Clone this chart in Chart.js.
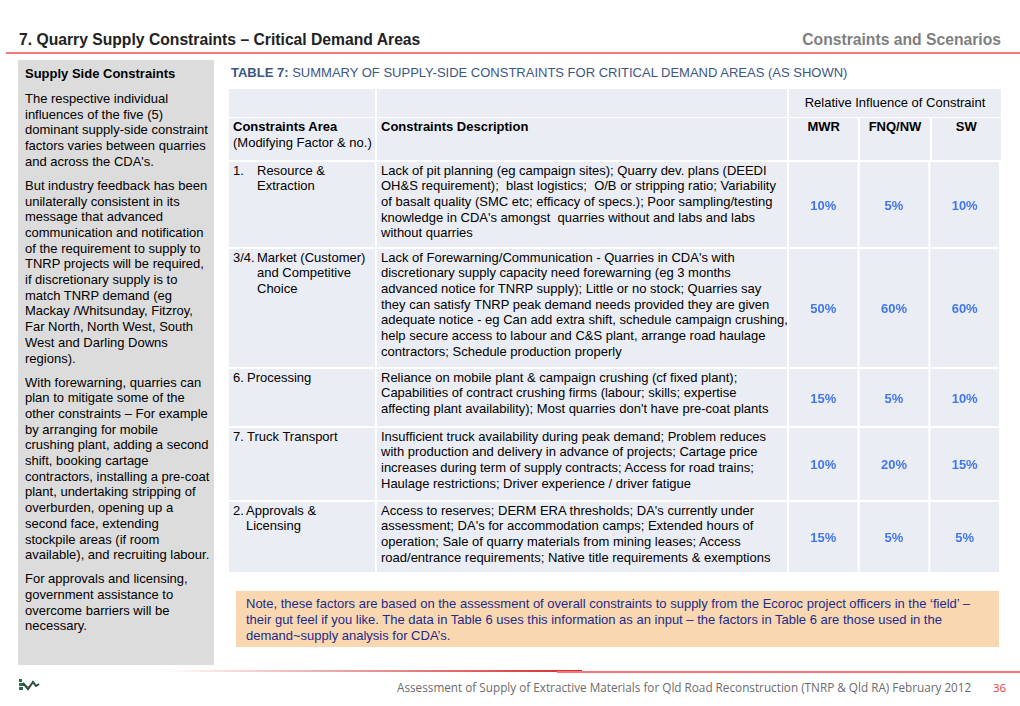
<!DOCTYPE html>
<html>
<head>
<meta charset="utf-8">
<script src="https://cdn.jsdelivr.net/npm/chart.js@4.4.1/dist/chart.umd.min.js"></script>
<style>
  body { margin: 0; width: 1020px; height: 706px; background: #fff; position: relative; overflow: hidden;
         font-family: "Liberation Sans", Arial, sans-serif; font-size: 13px; color: #000; }
  .abs { position: absolute; }
  .cell { position: absolute; background: #ebedf5; box-sizing: border-box; padding: 0.5px 4px 0 4px;
          line-height: 15.7px; white-space: pre; }
  .side p { margin: 0 0 8.3px 0; line-height: 15.7px; white-space: nowrap; }
  .b { font-weight: bold; }
</style>
</head>
<body>
<div class="abs b" style="left:19px;top:31px;font-size:15.7px;line-height:18px;color:#222">7. Quarry Supply Constraints – Critical Demand Areas</div>
<div class="abs b" style="right:19px;top:31px;font-size:15.7px;line-height:18px;color:#7f7f7f">Constraints and Scenarios</div>
<div class="abs" style="left:6px;top:52px;width:1014px;height:2px;background:#f47a7a"></div>

<div class="abs" style="left:18px;top:60px;width:196px;height:605px;background:#dcdcdc"></div>
<div class="abs side" id="side" style="left:25px;top:66px"></div>

<div class="abs" style="left:231px;top:65px;line-height:16px;color:#3c5686"><span class="b">TABLE 7:</span> SUMMARY OF SUPPLY-SIDE CONSTRAINTS FOR CRITICAL DEMAND AREAS (AS SHOWN)</div>

<div id="table"></div>

<div class="abs" style="left:236px;top:591px;width:763px;height:56px;background:#f9d7b0"></div>
<div class="abs" id="note" style="left:246px;top:596px;line-height:16px;color:#1c2b8c;white-space:pre"></div>

<div class="abs" style="left:160px;top:670px;width:422px;height:1.5px;background:linear-gradient(to right, rgba(232,90,90,0), #d42a2a)"></div>
<div class="abs" style="left:557px;top:671px;width:463px;height:2px;background:#f47878"></div>
<svg class="abs" style="left:19px;top:678px" width="22" height="14" viewBox="0 0 22 14">
  <rect x="0" y="1" width="3" height="3" fill="#2e6b4a"/>
  <rect x="0" y="5" width="5" height="3" fill="#2e6b4a"/>
  <rect x="0" y="9" width="4" height="3" fill="#2e6b4a"/>
  <polyline points="4,5 9,11 14,4 17,8 20,6" fill="none" stroke="#1f4d3a" stroke-width="2"/>
  <circle cx="9" cy="9" r="1" fill="#d43a3a"/>
</svg>
<div class="abs" id="foot" style="right:49px;top:680px;font-family:'Open Sans',sans-serif;font-size:12px;line-height:16px;color:#6b6b6b;white-space:nowrap;transform-origin:right center">Assessment of Supply of Extractive Materials for Qld Road Reconstruction (TNRP &amp; Qld RA) February 2012</div>
<div class="abs" style="left:993px;top:680px;font-family:'Open Sans',sans-serif;font-size:11.5px;line-height:16px;color:#e0403a">36</div>

<script>
// data
const regions = ['MWR', 'FNQ/NW', 'SW'];
const areaNums = ['1.', '3/4.', '6.', '7.', '2.'];
const areaNames = [
  ['Resource &', 'Extraction'],
  ['Market (Customer)', 'and Competitive', 'Choice'],
  ['Processing'],
  ['Truck Transport'],
  ['Approvals &', 'Licensing']
];
const descriptions = [
  ["Lack of pit planning (eg campaign sites); Quarry dev. plans (DEEDI",
   "OH&S requirement);  blast logistics;  O/B or stripping ratio; Variability",
   "of basalt quality (SMC etc; efficacy of specs.); Poor sampling/testing",
   "knowledge in CDA's amongst  quarries without and labs and labs",
   "without quarries"],
  ["Lack of Forewarning/Communication - Quarries in CDA's with",
   "discretionary supply capacity need forewarning (eg 3 months",
   "advanced notice for TNRP supply); Little or no stock; Quarries say",
   "they can satisfy TNRP peak demand needs provided they are given",
   "adequate notice - eg Can add extra shift, schedule campaign crushing,",
   "help secure access to labour and C&S plant, arrange road haulage",
   "contractors; Schedule production properly"],
  ["Reliance on mobile plant & campaign crushing (cf fixed plant);",
   "Capabilities of contract crushing firms (labour; skills; expertise",
   "affecting plant availability); Most quarries don't have pre-coat plants"],
  ["Insufficient truck availability during peak demand; Problem reduces",
   "with production and delivery in advance of projects; Cartage price",
   "increases during term of supply contracts; Access for road trains;",
   "Haulage restrictions; Driver experience / driver fatigue"],
  ["Access to reserves; DERM ERA thresholds; DA's currently under",
   "assessment; DA's for accommodation camps; Extended hours of",
   "operation; Sale of quarry materials from mining leases; Access",
   "road/entrance requirements; Native title requirements & exemptions"]
];
const mwr = [10, 50, 15, 10, 15];
const fnqnw = [5, 60, 5, 20, 5];
const sw = [10, 60, 10, 15, 5];

const sideParas = [
  ["The respective individual", "influences of the five (5)", "dominant supply-side constraint",
   "factors varies between quarries", "and across the CDA's."],
  ["But industry feedback has been", "unilaterally consistent in its", "message that advanced",
   "communication and notification", "of the requirement to supply to", "TNRP projects will be required,",
   "if discretionary supply is to", "match TNRP demand (eg", "Mackay /Whitsunday, Fitzroy,",
   "Far North, North West, South", "West and Darling Downs", "regions)."],
  ["With forewarning, quarries can", "plan to mitigate some of the", "other constraints – For example",
   "by arranging for mobile", "crushing plant, adding a second", "shift, booking cartage",
   "contractors, installing a pre-coat", "plant, undertaking stripping of", "overburden, opening up a",
   "second face, extending", "stockpile areas (if room", "available), and recruiting labour."],
  ["For approvals and licensing,", "government assistance to", "overcome barriers will be", "necessary."]
];
const noteLines = [
  "Note, these factors are based on the assessment of overall constraints to supply from the Ecoroc project officers in the ‘field’ –",
  "their gut feel if you like. The data in Table 6 uses this information as an input – the factors in Table 6 are those used in the",
  "demand~supply analysis for CDA’s."
];

// layout
const rowEdges = [162, 249, 369, 428, 502, 574];
const areaIndent = [24, 24, 14, 14, 13];
const colA = [229, 146], colD = [377, 410], valX = 789, valW = 212;

const esc = s => s.replace(/&/g, '&amp;').replace(/</g, '&lt;');

document.getElementById('side').innerHTML =
  '<p class="b" style="margin-bottom:9.3px">Supply Side Constraints</p>' +
  sideParas.map(p => '<p>' + p.map(esc).join('<br>') + '</p>').join('');
document.getElementById('note').innerHTML = noteLines.map(esc).join('\n');

function cell(x, y, w, h, html, extra) {
  return `<div class="cell" style="left:${x}px;top:${y}px;width:${w}px;height:${h}px;${extra || ''}">${html}</div>`;
}
const cw = (valW - 4) / 3;
let html = '';
html += cell(colA[0], 89, colA[1], 28, '');
html += cell(colD[0], 89, colD[1], 28, '');
html += cell(valX, 89, valW, 28, 'Relative Influence of Constraint', 'text-align:center;line-height:28px;padding:0');
html += cell(colA[0], 118, colA[1], 42, '<span class="b">Constraints Area</span>\n(Modifying Factor &amp; no.)', 'padding-top:1px');
html += cell(colD[0], 118, colD[1], 42, '<span class="b">Constraints Description</span>', 'padding-top:1px');
regions.forEach((r, j) => {
  html += cell(valX + j * (cw + 2), 118, cw, 42, '<span class="b">' + r + '</span>', 'text-align:center;padding:1px 0 0 0');
});
areaNums.forEach((n, i) => {
  const top = rowEdges[i], h = rowEdges[i + 1] - rowEdges[i] - 2;
  const area = `<div style="position:relative;padding-left:${areaIndent[i]}px"><span style="position:absolute;left:0">${n}</span>` +
    areaNames[i].map(esc).join('\n') + '</div>';
  html += cell(colA[0], top, colA[1], h, area);
  html += cell(colD[0], top, colD[1], h, descriptions[i].map(esc).join('\n'));
  html += `<canvas id="row${i}" class="abs" style="left:${valX}px;top:${top}px" width="${valW}" height="${h}"></canvas>`;
});
document.getElementById('table').innerHTML = html;

// cell backgrounds and value labels drawn on each bar position
const cellPlugin = {
  id: 'cells',
  beforeDatasetsDraw(chart) {
    const { ctx, chartArea } = chart;
    const meta = chart.getDatasetMeta(0);
    ctx.save();
    ctx.fillStyle = '#ebedf5';
    meta.data.forEach(el => {
      ctx.fillRect(el.x - el.width / 2, chartArea.top, el.width - 2, chartArea.bottom - chartArea.top);
    });
    ctx.restore();
  },
  afterDatasetsDraw(chart) {
    const { ctx, chartArea } = chart;
    const meta = chart.getDatasetMeta(0);
    const vals = chart.data.datasets[0].data;
    ctx.save();
    ctx.fillStyle = '#4277ea';
    ctx.font = 'bold 13px "Liberation Sans", Arial, sans-serif';
    ctx.textAlign = 'center';
    ctx.textBaseline = 'middle';
    const cy = (chartArea.top + chartArea.bottom) / 2 + 1.5;
    meta.data.forEach((el, j) => {
      ctx.fillText(vals[j] + '%', el.x - 1, cy);
    });
    ctx.restore();
  }
};

areaNums.forEach((n, i) => {
  new Chart(document.getElementById('row' + i), {
    type: 'bar',
    data: {
      labels: regions,
      datasets: [{
        data: [mwr[i], fnqnw[i], sw[i]],
        backgroundColor: 'rgba(0,0,0,0)',
        barPercentage: 1,
        categoryPercentage: 1
      }]
    },
    options: {
      responsive: false,
      animation: false,
      events: [],
      layout: { padding: 0 },
      scales: {
        x: { display: false },
        y: { display: false, min: 0, max: 100 }
      },
      plugins: { legend: { display: false }, tooltip: { enabled: false } }
    },
    plugins: [cellPlugin]
  });
});

// squeeze footer text to the reference width
const foot = document.getElementById('foot');
foot.style.transform = 'scaleX(' + (574 / foot.offsetWidth) + ')';
</script>
</body>
</html>
